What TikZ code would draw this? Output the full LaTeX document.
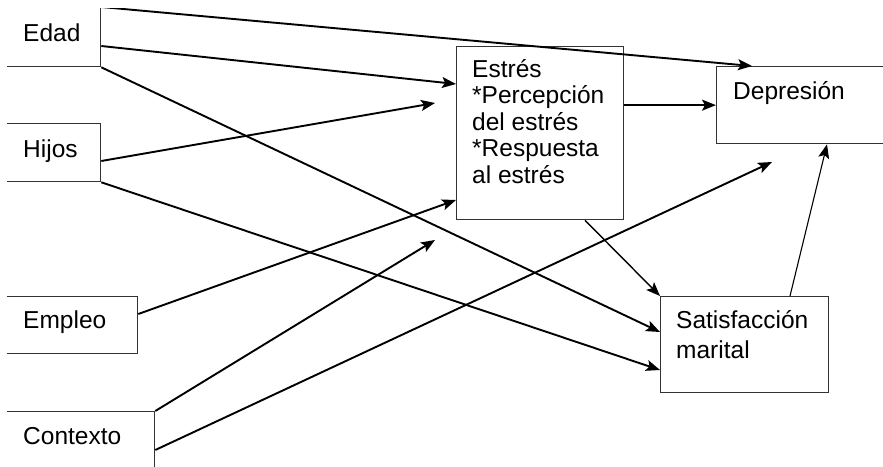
\documentclass[tikz,border=0pt]{standalone}
\usepackage{fontspec}
\setmainfont{Liberation Sans}
\usetikzlibrary{arrows.meta}

\begin{document}
\begin{tikzpicture}[x=1pt,y=-1pt,
    box/.style={draw=black!80,line width=1.3pt,rectangle,inner sep=0pt,anchor=north west},
    lbl/.style={anchor=base west,inner sep=0pt,align=left,font=\fontsize{24.5}{26.5}\selectfont},
    arr/.style={line width=1.9pt,-{Stealth[length=14pt,width=11pt,inset=3pt]}}]
  \useasboundingbox (0,0) rectangle (883,466);
  \clip (7,8) rectangle (883,466);
  % boxes
  \node[box,minimum width=110pt,minimum height=59pt] (edad) at (-10,7) {};
  \node[box,minimum width=110pt,minimum height=58pt] (hijos) at (-10,123) {};
  \node[box,minimum width=147pt,minimum height=57pt] (empleo) at (-10,296) {};
  \node[box,minimum width=164pt,minimum height=80pt] (contexto) at (-10,411) {};
  \node[box,minimum width=167pt,minimum height=173pt] (estres) at (456,46) {};
  \node[box,minimum width=200pt,minimum height=77pt] (dep) at (716,66) {};
  \node[box,minimum width=168pt,minimum height=96pt] (sat) at (660,296) {};
  % texts (base = last line)
  \node[lbl] (edadtxt) at (23,41) {Edad};
  \node[lbl] (hijostxt) at (23,157) {Hijos};
  \node[lbl] (empleotxt) at (23,328) {Empleo};
  \node[lbl] (contextotxt) at (23,444) {Contexto};
  \node[lbl] (estrestxt) at (472,183) {Estrés\\{*}Percepción\\del estrés\\{*}Respuesta\\al estrés};
  \node[lbl] (deptxt) at (733,99) {Depresión};
  \node[lbl,font=\fontsize{24.5}{30}\selectfont] (sattxt) at (676,358) {Satisfacción\\marital};
  % free ends
  \coordinate (hijosend) at (435,103);
  \coordinate (ctxend1) at (435,240);
  \coordinate (ctxend2) at (772,162);
  % arrows
  \draw[arr] (edad.north east) -- ([xshift=36pt]dep.north west);
  \draw[arr] ([yshift=-39pt]edad.north east) -- ([yshift=-38pt]estres.north west);
  \draw[arr] (edad.south east) -- ([yshift=-36pt]sat.north west);
  \draw[arr] ([yshift=-38pt]hijos.north east) -- (hijosend);
  \draw[arr] (hijos.south east) -- ([yshift=-74pt]sat.north west);
  \draw[arr] ([yshift=-18pt]empleo.north east) -- ([yshift=-154pt]estres.north west);
  \draw[arr] (contexto.north east) -- (ctxend1);
  \draw[arr] ([yshift=-39pt]contexto.north east) -- (ctxend2);
  \draw[arr,line width=1.4pt] ([xshift=129pt]estres.south west) -- (sat.north west);
  \draw[arr] (estres.east |- dep.west) -- (dep.west);
  \draw[arr,line width=1.1pt] ([xshift=130pt]sat.north west) -- ([xshift=111pt]dep.south west);
\end{tikzpicture}
\end{document}
